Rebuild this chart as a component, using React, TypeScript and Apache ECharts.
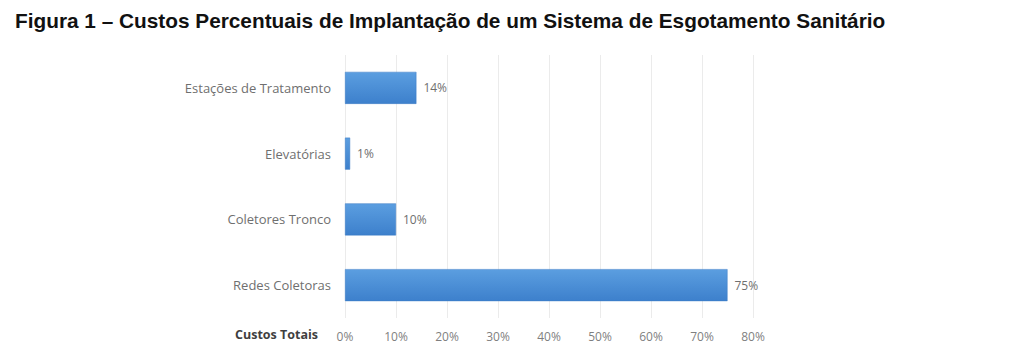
import React, { useEffect, useRef } from "react";
import * as echarts from "echarts";

const titleText = "Figura 1 – Custos Percentuais de Implantação de um Sistema de Esgotamento Sanitário";
const categories = ["Redes Coletoras", "Coletores Tronco", "Elevatórias", "Estações de Tratamento"];
const values = [75, 10, 1, 14];
const axisName = "Custos Totais";
const xMax = 80;
const xStep = 10;

export default function App() {
  const ref = useRef<HTMLDivElement>(null);
  useEffect(() => {
    if (!ref.current) return;
    const chart = echarts.init(ref.current, null, { renderer: "svg" });
    const lblFont = "'Open Sans', Lato, sans-serif";
    chart.setOption({
      animation: false,
      backgroundColor: "#ffffff",
      title: {
        text: titleText,
        left: 10,
        top: 5,
        textStyle: { fontFamily: "'Liberation Sans', Arial, sans-serif", fontWeight: "bold", fontSize: 20.8, color: "#111111" },
      },
      grid: { left: 345, right: 1024 - 753, top: 55, bottom: 352 - 318 },
      xAxis: {
        type: "value",
        min: 0,
        max: xMax,
        interval: xStep,
        axisLine: { show: false },
        axisTick: { show: false },
        splitLine: { show: true, lineStyle: { color: "#ebebeb", width: 1 } },
        axisLabel: {
          formatter: (v: number) => v + "%",
          color: "#7f7f7f",
          fontFamily: lblFont,
          fontSize: 12,
          margin: 12,
        },
      },
      yAxis: {
        type: "category",
        data: categories,
        axisLine: { show: false },
        axisTick: { show: false },
        axisLabel: { color: "#6f6f6f", fontFamily: lblFont, fontSize: 13, margin: 14 },
      },
      graphic: [
        {
          type: "text",
          right: 1024 - 318,
          top: 328,
          style: { text: axisName, fill: "#3f3f3f", font: "bold 12.5px 'Open Sans', Lato, sans-serif" },
        },
      ],
      series: [
        {
          type: "bar",
          data: values,
          barWidth: 32,
          itemStyle: {
            color: new echarts.graphic.LinearGradient(0, 0, 0, 1, [
              { offset: 0, color: "#5b9ee0" },
              { offset: 1, color: "#3d80cc" },
            ]),
            borderColor: "#3a7bc4",
            borderWidth: 0.5,
          },
          label: {
            show: true,
            position: "right",
            distance: 7,
            formatter: (p: any) => p.value + "%",
            color: "#6f6f6f",
            fontFamily: lblFont,
            fontSize: 12,
          },
        },
      ],
    });
    return () => chart.dispose();
  }, []);
  return <div ref={ref} style={{ width: 1024, height: 352, position: "absolute", left: 0, top: 0 }} />;
}
